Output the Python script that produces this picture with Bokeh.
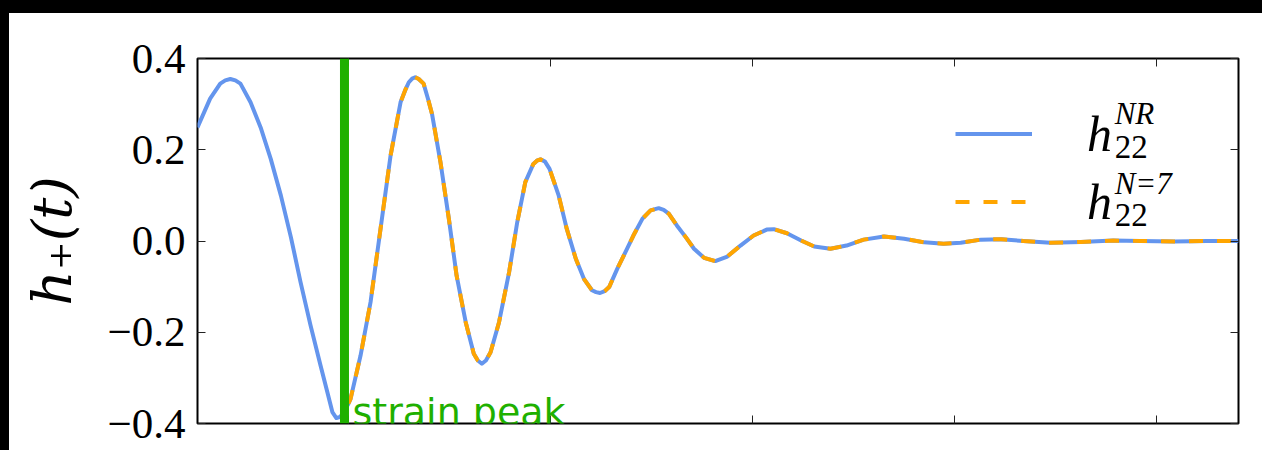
from bokeh.plotting import figure
from bokeh.models import (Span, Label, Legend, LegendItem, FixedTicker,
                          LinearAxis, Range1d, CustomLabelingPolicy)
from bokeh.embed import file_html
from bokeh.resources import INLINE

# ---- data (time in arbitrary units, ticks every 20) ----
t_nr = [-14.95, -13.7, -12.7, -12.2, -11.7, -11.2, -10.7, -9.7, -8.7, -7.7,
        -6.7, -5.7, -4.75, -3.76, -2.77, -2.1, -1.6, -1.2, -0.9, -0.6,
        0.0, 0.2, 1.19, 2.18, 3.17, 4.16, 5.15, 5.6, 5.97, 6.3,
        6.6, 6.95, 7.43, 7.85, 8.26, 9.1, 9.93, 10.7, 11.6, 12.4,
        12.8, 13.2, 13.6, 14.06, 14.9, 15.9, 16.7, 17.5, 18.3, 18.65,
        19.0, 19.45, 19.9, 20.8, 21.6, 22.5, 23.3, 24.1, 24.5, 24.9,
        25.35, 25.8, 26.6, 27.4, 28.2, 29.1, 29.9, 30.7, 31.2, 31.7,
        32.5, 33.4, 34.2, 35.2, 36.3, 37.5, 38.8, 40.1, 41.4, 42.1,
        43.4, 44.8, 46.1, 47.7, 49.3, 51.0, 53.0, 55.0, 57.0, 58.9,
        60.6, 62.6, 64.6, 66.8, 69.5, 72.5, 75.7, 78.4, 81.7, 85.0,
        88.1]
h_nr = [0.249, 0.312, 0.345, 0.352, 0.355, 0.352, 0.345, 0.304, 0.249, 0.180,
        0.100, 0.008, -0.090, -0.185, -0.273, -0.331, -0.375, -0.388, -0.386, -0.380,
        -0.356, -0.346, -0.251, -0.134, 0.027, 0.187, 0.304, 0.330, 0.348, 0.356,
        0.359, 0.355, 0.345, 0.313, 0.279, 0.173, 0.049, -0.076, -0.178, -0.247,
        -0.262, -0.269, -0.262, -0.244, -0.178, -0.068, 0.041, 0.129, 0.169, 0.176,
        0.179, 0.174, 0.158, 0.100, 0.027, -0.039, -0.083, -0.108, -0.112, -0.114,
        -0.110, -0.101, -0.061, -0.025, 0.012, 0.049, 0.067, 0.072, 0.068, 0.060,
        0.034, 0.008, -0.017, -0.037, -0.044, -0.034, -0.010, 0.012, 0.025, 0.026,
        0.017, 0.001, -0.012, -0.017, -0.010, 0.003, 0.010, 0.005, -0.003, -0.006,
        -0.004, 0.003, 0.004, 0.000, -0.004, -0.002, 0.001, 0.000, -0.001, 0.000,
        0.000]

peak_time = -0.4
fit_start = t_nr.index(0.0)
t_fit = t_nr[fit_start:]
h_fit = h_nr[fit_start:]

x_ticks = [0, 20, 40, 60, 80]
y_ticks = [-0.4, -0.2, 0.0, 0.2, 0.4]
y_tick_labels = ["\u22120.4", "\u22120.2", "0.0", "0.2", "0.4"]
legend_symbol = "h"
legend_sub = ["22", "22"]
legend_sup = ["NR", "N=7"]
y_label = "h\u208a(t)"
peak_text = "strain peak"

BLUE = "#6495ED"
ORANGE = "#FFA500"
GREEN = "#1fb000"
SERIF = "Liberation Serif"

p = figure(width=1253, height=437, output_backend="svg", toolbar_location=None,
           x_range=Range1d(-14.95, 88.1), y_range=Range1d(-0.4, 0.4),
           min_border_left=188, min_border_right=24, min_border_top=45,
           min_border_bottom=27)
p.background_fill_color = "white"
p.border_fill_color = "white"
p.outline_line_color = "black"
p.outline_line_width = 2
p.xgrid.visible = False
p.ygrid.visible = False

p.add_layout(LinearAxis(), "right")
p.add_layout(LinearAxis(), "above")

hide_all = "for (const i of indices) indices.unset(i)"

for ax in p.xaxis + p.yaxis:
    ax.axis_line_color = None
    ax.major_tick_in = 8
    ax.major_tick_out = 0
    ax.major_tick_line_color = "#222222"
    ax.major_tick_line_width = 1
    ax.minor_tick_line_color = None
for ax in p.xaxis:
    ax.ticker = FixedTicker(ticks=x_ticks)
for ax in p.yaxis:
    ax.ticker = FixedTicker(ticks=y_ticks)
for ax in list(p.xaxis) + [p.right[0]]:
    ax.major_label_text_font_size = "1px"
    ax.major_label_standoff = 0
    ax.major_label_policy = CustomLabelingPolicy(code=hide_all)

left_ax = p.left[0]
left_ax.major_label_overrides = {v: s for v, s in zip(y_ticks, y_tick_labels)}
left_ax.major_label_text_font = SERIF
left_ax.major_label_text_font_size = "43px"
left_ax.major_label_text_color = "black"
left_ax.major_label_standoff = 12
left_ax.axis_label = y_label
left_ax.axis_label_text_font = "DejaVu Serif"
left_ax.axis_label_text_font_style = "italic"
left_ax.axis_label_text_font_size = "55px"
left_ax.axis_label_text_color = "black"
left_ax.axis_label_standoff = 20

r_nr = p.line(t_nr, h_nr, line_color=BLUE, line_width=4, line_join="round")
r_fit = p.line(t_fit, h_fit, line_color=ORANGE, line_width=4, line_dash="14 14")

p.add_layout(Span(location=peak_time, dimension="height", line_color=GREEN,
                  line_width=9))
p.add_layout(Label(x=peak_time, y=-0.375, x_offset=8, text=peak_text,
                   text_color=GREEN, text_font="DejaVu Sans",
                   text_font_size="38px", text_baseline="alphabetic"))

legend = Legend(items=[LegendItem(label=legend_symbol, renderers=[r_nr]),
                       LegendItem(label=legend_symbol, renderers=[r_fit])],
                location=(758, 192), glyph_width=77, glyph_height=59,
                label_height=59, label_standoff=55, spacing=9, padding=0,
                margin=0, border_line_color=None, background_fill_alpha=0,
                label_text_font=SERIF, label_text_color="black",
                label_text_font_style="italic", label_text_font_size="50px",
                label_text_baseline="alphabetic")
p.add_layout(legend)

# sub/superscripts of the legend symbols
script_x = 75.84
sub_y = [0.2071, 0.0559]
sup_y = [0.2790, 0.1250]
for sub, sup, ys, yp in zip(legend_sub, legend_sup, sub_y, sup_y):
    p.add_layout(Label(x=script_x, y=ys, text=sub, text_font=SERIF,
                       text_font_size="33px", text_color="black",
                       text_baseline="alphabetic"))
    p.add_layout(Label(x=script_x, y=yp, text=sup, text_font=SERIF,
                       text_font_style="italic", text_font_size="31px",
                       text_color="black", text_baseline="alphabetic"))

html = file_html(p, INLINE)
html = html.replace(
    "</head>",
    "<style>html{background:#fff;overflow:hidden}"
    "body{background:#fff;margin:0;border-top:13px solid #000;"
    "border-left:9px solid #000;overflow:hidden}</style></head>", 1)
open("out.html", "w").write(html)
